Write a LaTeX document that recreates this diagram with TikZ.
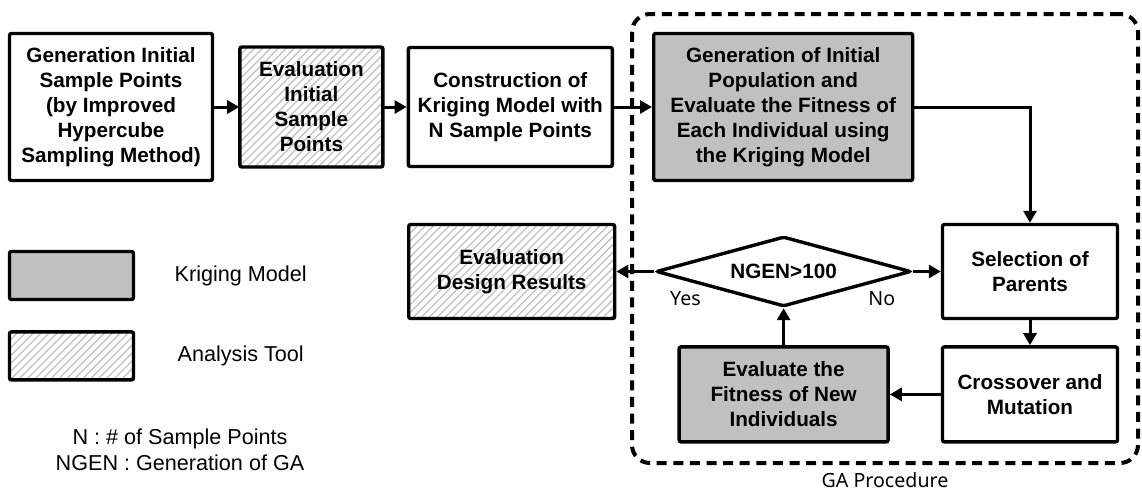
\documentclass[tikz,border=0pt]{standalone}
\usepackage{fontspec}
\setmainfont{Liberation Sans}
\newfontfamily\uifont{Noto Sans}
\usetikzlibrary{arrows.meta,positioning,shapes.geometric,patterns.meta}
\definecolor{krig}{HTML}{C0C0C0}
\definecolor{hatch}{HTML}{C4C4C4}

\begin{document}
\begin{tikzpicture}[>={Triangle[length=6pt,width=6.5pt]},line width=1.5pt,
  box/.style={draw,line width=1.7pt,rounded corners=1pt,align=center,inner sep=2pt,
    font=\fontsize{10.35}{12.5}\selectfont\bfseries},
  krg/.style={box,fill=krig},
  tool/.style={box,pattern={Lines[angle=45,distance=2.8pt,line width=0.7pt]},pattern color=hatch},
  cond/.style={box,shape=diamond,aspect=3.64,inner sep=0pt,fill=white},
  garea/.style={draw,line width=2pt,dash pattern=on 5pt off 3.3pt,rounded corners=9pt},
  note/.style={inner sep=0pt,font=\fontsize{10.8}{13}\selectfont},
  yn/.style={inner sep=0pt,font=\uifont\fontsize{9.8}{12}\selectfont}]
\useasboundingbox (0,0) rectangle (571pt,-246.5pt);
% GA frame
\node[garea,minimum width=253pt,minimum height=224.5pt] (ga) at (442.5pt,-119.25pt) {};
\node[yn,below=3pt of ga] (gal) {GA Procedure};
% top row
\node[box,minimum width=101.5pt,minimum height=73.5pt] (gen) at (55.5pt,-53.5pt)
  {Generation Initial\\ Sample Points\\ (by Improved\\ Hypercube\\ Sampling Method)};
\node[tool,minimum width=71.5pt,minimum height=60pt,right=12.5pt of gen] (evi)
  {Evaluation\\ Initial\\ Sample\\ Points};
\node[box,minimum width=102pt,minimum height=59.5pt,right=11.5pt of evi] (kri)
  {Construction of\\ Kriging Model with\\ N Sample Points};
\node[krg,minimum width=129.5pt,minimum height=73.5pt,right=19pt of kri] (pop)
  {Generation of Initial\\ Population and\\ Evaluate the Fitness of\\ Each Individual using\\ the Kriging Model};
% GA loop
\node[box,minimum width=87.5pt,minimum height=47pt] (sel) at (515pt,-135.75pt) {Selection of\\ Parents};
\node[box,minimum width=87.5pt,minimum height=47.5pt,below=12.5pt of sel] (crs) {Crossover and\\ Mutation};
\node[krg,minimum width=104.5pt,minimum height=47.5pt,left=25.5pt of crs] (fit)
  {Evaluate the\\ Fitness of New\\ Individuals};
\node[cond,minimum width=127.5pt,minimum height=35pt,above=18.5pt of fit] (chk) {NGEN>100};
\node[tool,minimum width=103pt,minimum height=47pt,left=19pt of chk] (evd) {Evaluation\\ Design Results};
\node[yn] (yes) at ([xshift=15.5pt,yshift=-13.5pt]chk.west) {Yes};
\node[yn] (no) at ([xshift=-15.5pt,yshift=-13.5pt]chk.east) {No};
% legend
\node[krg,minimum width=62pt,minimum height=24pt] (lk) at (35.75pt,-137.75pt) {};
\node[tool,minimum width=62pt,minimum height=24pt,below=14.5pt of lk] (la) {};
\node[note,right=19pt of lk] (lkt) {Kriging Model};
\node[note,right=20.5pt of la] (lat) {Analysis Tool};
\node[note,align=center] (nn) at (90pt,-225pt) {N : \# of Sample Points\\ NGEN : Generation of GA};
\draw[->] (gen) -- (evi);
\draw[->] (evi) -- (kri);
\draw[->] (kri) -- (pop);
\draw[->] (pop.east) -| (sel.north);
\draw[->] (sel) -- (crs);
\draw[->] (crs) -- (fit);
\draw[->] (fit) -- (chk);
\draw[->] (chk.east) -- (chk.east -| sel.west);
\draw[->] (chk.west) -- (chk.west -| evd.east);
\end{tikzpicture}
\end{document}
